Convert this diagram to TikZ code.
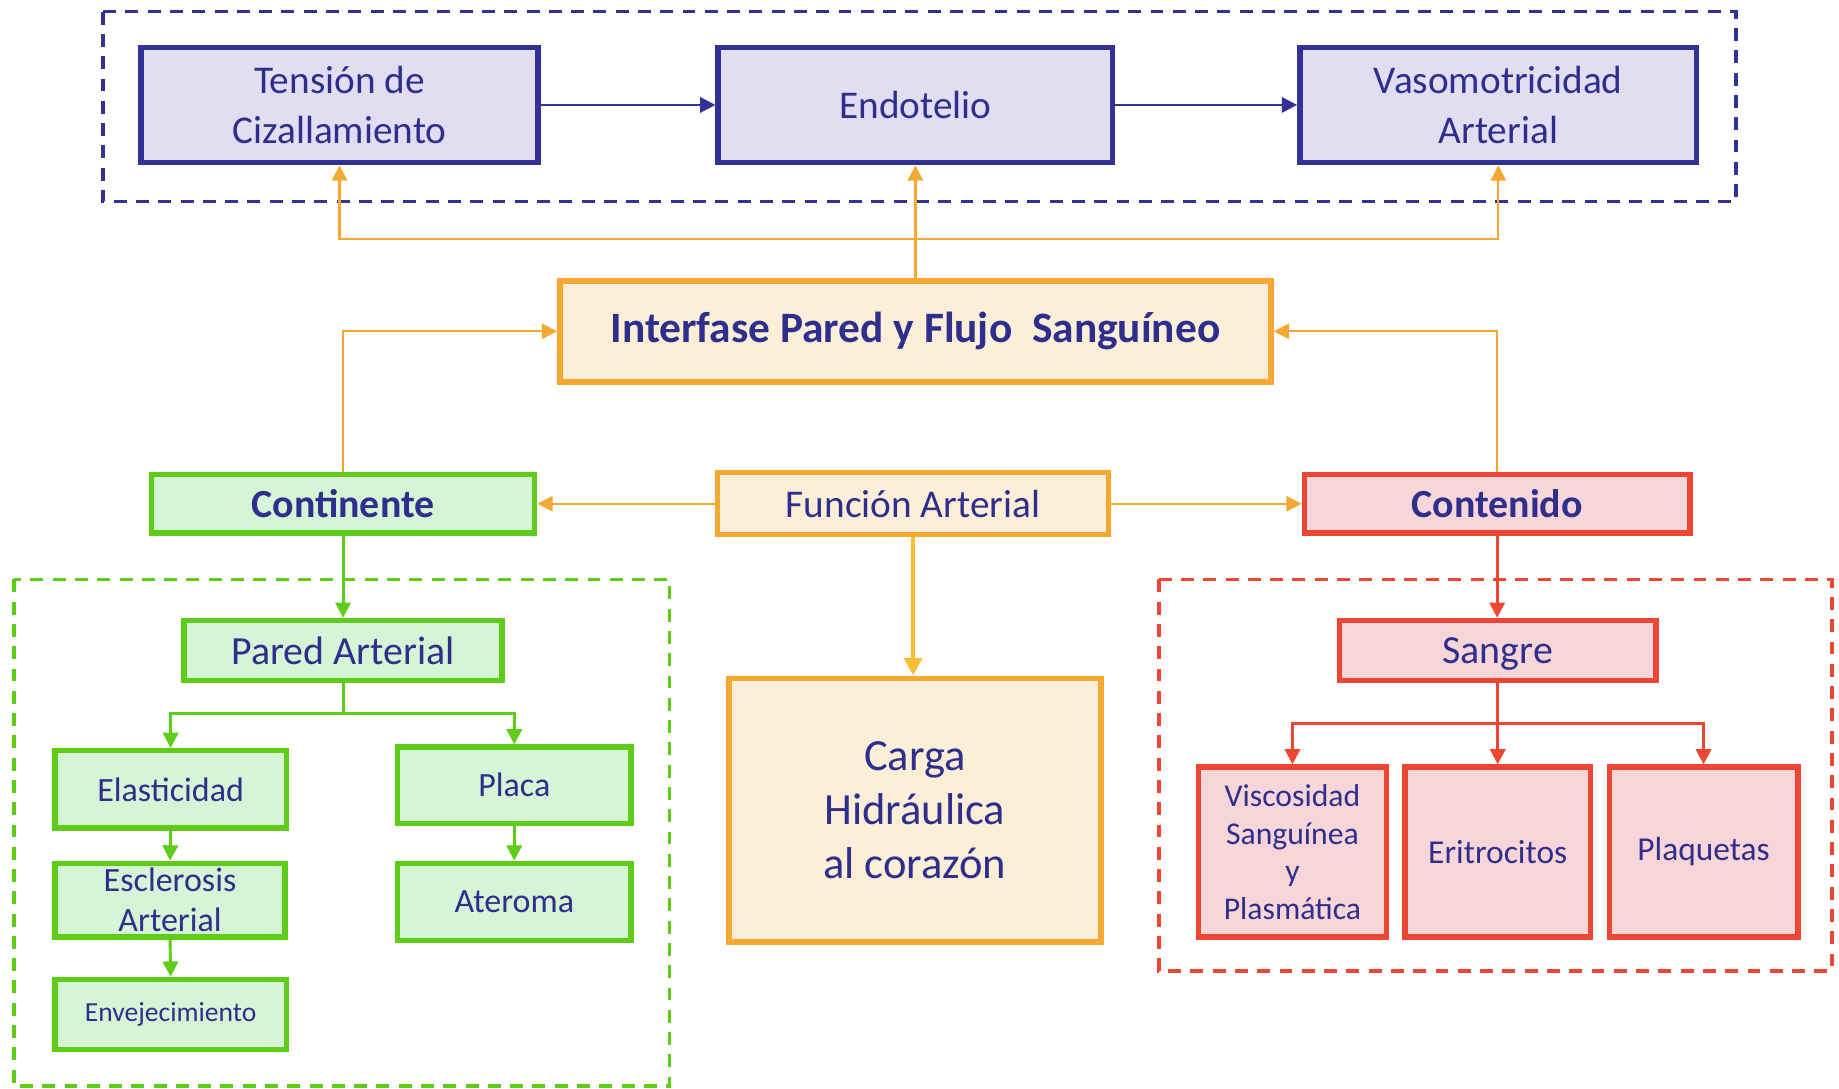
\documentclass[tikz,border=0pt]{standalone}
\usepackage{fontspec}
\setmainfont{Carlito}
\usetikzlibrary{arrows.meta}
\definecolor{navy}{RGB}{46,46,140}
\definecolor{bbord}{RGB}{50,50,150}
\definecolor{bfill}{RGB}{224,222,240}
\definecolor{obord}{RGB}{245,168,50}
\definecolor{ofill}{RGB}{253,238,216}
\definecolor{oyel}{RGB}{248,190,50}
\definecolor{gbord}{RGB}{96,204,26}
\definecolor{gfill}{RGB}{214,244,214}
\definecolor{rbord}{RGB}{238,70,52}
\definecolor{rfill}{RGB}{248,213,216}
\tikzset{
  box/.style={rectangle, inner sep=0pt, align=center, text=navy},
  bluebox/.style={box, draw=bbord, fill=bfill, line width=5pt, font=\fontsize{33.5}{42}\selectfont},
  obox/.style={box, draw=obord, fill=ofill, line width=5pt},
  gbox/.style={box, draw=gbord, fill=gfill, line width=4.5pt},
  rbox/.style={box, draw=rbord, fill=rfill, line width=4.5pt},
  tip/.style={-{Triangle[length=13pt,width=13pt]}},
  barrow/.style={tip, draw=bbord, line width=2pt},
  oarrow/.style={tip, draw=obord, line width=2pt},
  garrow/.style={tip, draw=gbord, line width=2.5pt},
  rarrow/.style={tip, draw=rbord, line width=2.5pt},
  frame/.style={line width=3pt, dash pattern=on 11pt off 8pt},
}
\begin{document}
\begin{tikzpicture}[x=1pt,y=-1pt]
\useasboundingbox[fill=white] (0,0) rectangle (1568,928);
% dashed frames
\draw[frame, draw=bbord] (88,10) rectangle (1480,172);
\draw[frame, draw=gbord] (12,494) rectangle (571,926);
\draw[frame, draw=rbord] (988,494) rectangle (1562,828);

% top row
\node[bluebox, minimum width=338, minimum height=98] (ten) at (289.5,89.5) {Tensión de\\Cizallamiento};
\node[bluebox, minimum width=336, minimum height=98] (endo) at (780.5,89.5) {Endotelio};
\node[bluebox, minimum width=338, minimum height=98] (vaso) at (1277.5,89.5) {Vasomotricidad\\Arterial};

% interfase
\node[obox, minimum width=606, minimum height=86, font=\fontsize{37}{42}\selectfont\bfseries] (inter) at (780.5,282.5) {Interfase Pared y Flujo\ \ Sanguíneo};

% middle row
\node[gbox, minimum width=327, minimum height=50, font=\fontsize{34}{38}\selectfont\bfseries] (cont) at (292.5,429.5) {Continente};
\node[obox, line width=4.5pt, minimum width=333, minimum height=53, font=\fontsize{33.5}{38}\selectfont] (func) at (778.5,429.5) {Función Arterial};
\node[rbox, minimum width=329, minimum height=50, font=\fontsize{34}{38}\selectfont\bfseries] (conten) at (1276.5,429.5) {Contenido};

% carga
\node[obox, minimum width=317, minimum height=225, font=\fontsize{38}{46}\selectfont] (carga) at (780,691) {Carga\\Hidráulica\\al corazón};

% green group
\node[gbox, minimum width=271, minimum height=51, font=\fontsize{34}{38}\selectfont] (pared) at (292.5,554.5) {Pared Arterial};
\node[gbox, minimum width=197, minimum height=66, font=\fontsize{29}{34}\selectfont] (elas) at (145.5,673) {Elasticidad};
\node[gbox, minimum width=196, minimum height=63, font=\fontsize{29}{34}\selectfont] (escl) at (145,767.5) {Esclerosis\\Arterial};
\node[gbox, minimum width=197, minimum height=60, font=\fontsize{23.5}{28}\selectfont] (enve) at (145.5,865) {Envejecimiento};
\node[gbox, minimum width=199, minimum height=65, font=\fontsize{29}{34}\selectfont] (placa) at (438.5,669.5) {Placa};
\node[gbox, minimum width=199, minimum height=66, font=\fontsize{29}{34}\selectfont] (atero) at (438.5,769) {Ateroma};

% red group
\node[rbox, minimum width=270, minimum height=51, text depth=0pt, font=\fontsize{34}{38}\selectfont] (sangre) at (1277,554.5) {Sangre};
\node[rbox, minimum width=160, minimum height=145, font=\fontsize{27}{32}\selectfont] (visc) at (1102,726.5) {Viscosidad\\Sanguínea\\y\\Plasmática};
\node[rbox, minimum width=158, minimum height=145, font=\fontsize{28.5}{32}\selectfont] (erit) at (1277,726.5) {Eritrocitos};
\node[rbox, minimum width=161, minimum height=145, font=\fontsize{28.5}{32}\selectfont] (plaq) at (1452.5,726.5) {Plaquetas};

% blue connectors
\draw[barrow] (ten.east) -- (endo.west);
\draw[barrow] (endo.east) -- (vaso.west);

% orange connectors
\coordinate (hub) at (780.5,204);
\draw[oarrow] (inter.north) -- (endo.south);
\draw[oarrow] (hub) -| (ten.south);
\draw[oarrow] (hub) -| (vaso.south);
\draw[oarrow] (cont.north) |- (inter.west);
\draw[oarrow] (conten.north) |- (inter.east);
\draw[oarrow] (func.west) -- (cont.east);
\draw[oarrow] (func.east) -- (conten.west);
\draw[-{Triangle[length=15pt,width=15pt]}, draw=oyel, line width=4pt] (func.south) -- (carga.north -| func.south);

% green connectors
\draw[garrow] (cont.south) -- (pared.north);
\coordinate (gsplit) at (292.5,608);
\draw[gbord, line width=2.5pt] (pared.south) -- (gsplit);
\draw[garrow] (gsplit) -| (elas.north);
\draw[garrow] (gsplit) -| (placa.north);
\draw[garrow] (elas.south) -- (escl.north);
\draw[garrow] (escl.south) -- (enve.north);
\draw[garrow] (placa.south) -- (atero.north);

% red connectors
\draw[rarrow] (conten.south) -- (sangre.north -| conten.south);
\coordinate (rsplit) at (1277,617);
\draw[rarrow] (sangre.south) -- (erit.north);
\draw[rarrow] (rsplit) -| (visc.north);
\draw[rarrow] (rsplit) -| (plaq.north);
\end{tikzpicture}
\end{document}
